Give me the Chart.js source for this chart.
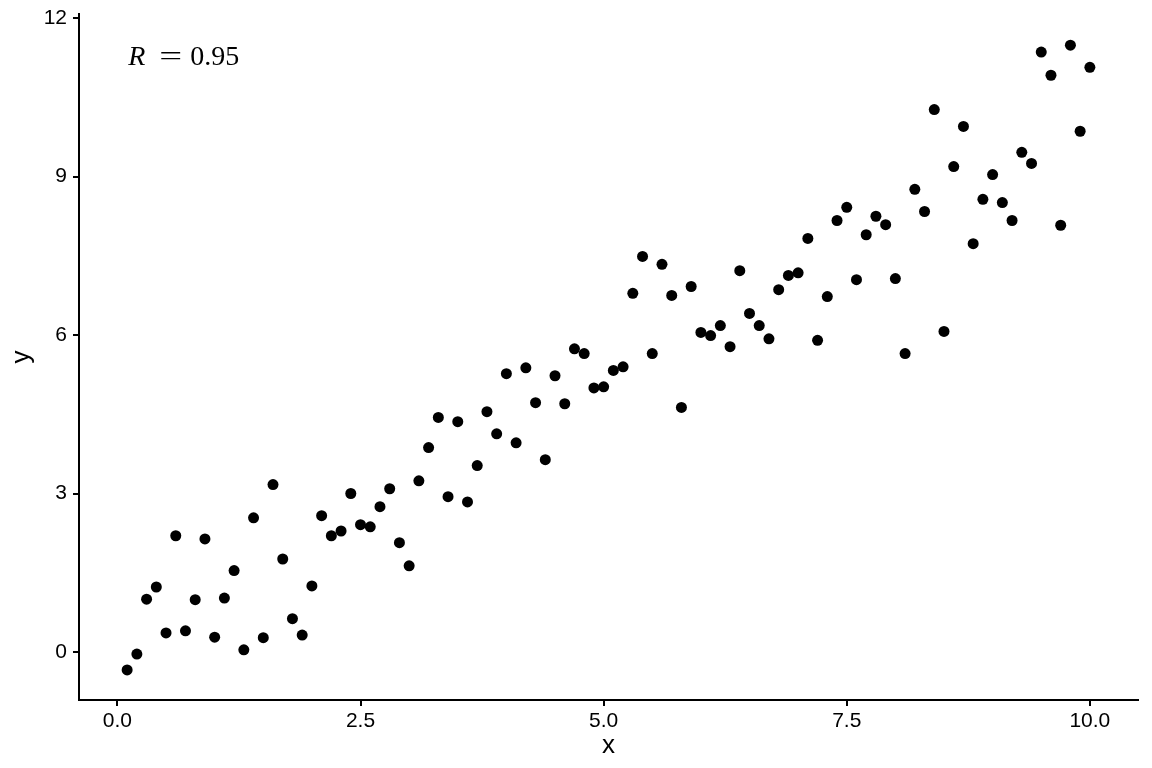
<!DOCTYPE html>
<html>
<head>
<meta charset="utf-8">
<script src="https://cdn.jsdelivr.net/npm/chart.js@4/dist/chart.umd.min.js"></script>
<style>
  html, body { margin: 0; padding: 0; background: #fff; }
  #wrap { width: 1152px; height: 768px; position: relative; }
</style>
</head>
<body>
<div id="wrap"><canvas id="scatter"></canvas></div>
<script>
// data
const xVals = [];
for (let i = 1; i <= 100; i++) xVals.push(i / 10);
const yVals = [
  -0.34, -0.04, 1.00, 1.23, 0.36, 2.20, 0.40, 0.99, 2.14, 0.28,
  1.02, 1.54, 0.04, 2.54, 0.27, 3.17, 1.76, 0.63, 0.32, 1.25,
  2.58, 2.20, 2.29, 3.00, 2.41, 2.37, 2.75, 3.09, 2.07, 1.63,
  3.24, 3.87, 4.44, 2.94, 4.36, 2.84, 3.53, 4.55, 4.13, 5.27,
  3.96, 5.38, 4.72, 3.64, 5.23, 4.70, 5.74, 5.65, 5.00, 5.02,
  5.33, 5.40, 6.79, 7.49, 5.65, 7.34, 6.75, 4.63, 6.92, 6.05,
  5.99, 6.18, 5.78, 7.22, 6.41, 6.18, 5.93, 6.86, 7.13, 7.18,
  7.83, 5.90, 6.73, 8.17, 8.42, 7.05, 7.90, 8.25, 8.09, 7.07,
  5.65, 8.76, 8.34, 10.27, 6.07, 9.19, 9.95, 7.73, 8.57, 9.04,
  8.51, 8.17, 9.46, 9.25, 11.36, 10.92, 8.08, 11.49, 9.86, 11.07
];
const xTicks = [0, 2.5, 5, 7.5, 10];
const yTicks = [0, 3, 6, 9, 12];
const rLabel = 'R';
const rValue = '0.95';

const points = xVals.map((x, i) => ({ x: x, y: yVals[i] }));

// R = 0.95 label in the top left, drawn piece by piece to get tex-like spacing
const annotate = {
  id: 'annotate',
  afterDatasetsDraw(chart) {
    const ctx = chart.ctx;
    const x0 = chart.scales.x.getPixelForValue(0.1) + 1;
    const y0 = 65;
    ctx.save();
    ctx.fillStyle = '#000';
    ctx.textBaseline = 'alphabetic';
    ctx.textAlign = 'left';
    ctx.font = 'italic 28px "Liberation Serif"';
    ctx.fillText(rLabel, x0, y0);
    ctx.font = '28px "Liberation Serif"';
    // wider equals sign, like the tex one
    ctx.save();
    ctx.translate(x0 + 31, y0);
    ctx.scale(1.45, 1);
    ctx.fillText('=', 0, 0);
    ctx.restore();
    ctx.fillText(rValue, x0 + 62, y0);
    ctx.restore();
  }
};

const tickFont = { family: 'Liberation Sans', size: 21 };
const titleFont = { family: 'Liberation Sans', size: 26 };

new Chart(document.getElementById('scatter'), {
  type: 'scatter',
  data: {
    datasets: [{
      data: points,
      backgroundColor: '#000',
      borderColor: '#000',
      pointRadius: 5.5,
      pointHoverRadius: 5.5,
      borderWidth: 0
    }]
  },
  options: {
    responsive: true,
    maintainAspectRatio: false,
    animation: false,
    layout: { padding: { top: 14, right: 14, left: 0, bottom: 0 } },
    plugins: { legend: { display: false }, tooltip: { enabled: false } },
    scales: {
      x: {
        type: 'linear',
        min: -0.395,
        max: 10.495,
        afterBuildTicks: s => { s.ticks = xTicks.map(v => ({ value: v })); },
        afterFit: s => { s.height = 68; s.paddingLeft = 0; s.paddingRight = 0; },
        border: { display: true, color: '#000', width: 2 },
        grid: { drawOnChartArea: false, drawTicks: true, tickLength: 6, color: '#000', lineWidth: 2 },
        ticks: { color: '#000', font: tickFont, padding: 3, maxRotation: 0,
                 callback: v => Number(v).toFixed(1) },
        title: { display: true, text: 'x', color: '#000', font: titleFont, padding: { top: 0, bottom: 7 } }
      },
      y: {
        type: 'linear',
        min: -0.91,
        max: 12.08,
        afterBuildTicks: s => { s.ticks = yTicks.map(v => ({ value: v })); },
        afterFit: s => { s.width = 79; s.paddingTop = 0; s.paddingBottom = 0; },
        border: { display: true, color: '#000', width: 2 },
        grid: { drawOnChartArea: false, drawTicks: true, tickLength: 6, color: '#000', lineWidth: 2 },
        ticks: { color: '#000', font: tickFont, padding: 6,
                 callback: v => String(v) },
        title: { display: true, text: 'y', color: '#000', font: titleFont, padding: { top: 6, bottom: 0 } }
      }
    }
  },
  plugins: [annotate]
});
</script>
</body>
</html>
